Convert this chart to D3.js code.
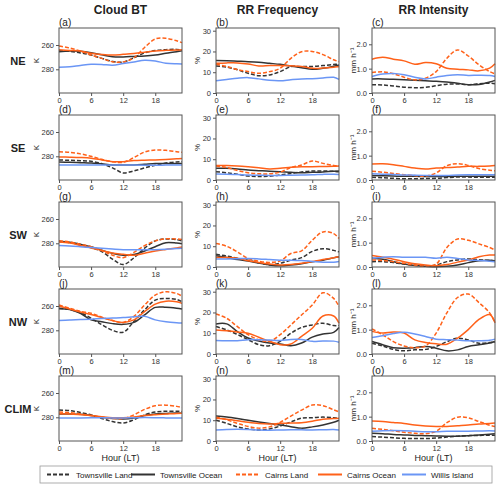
<!DOCTYPE html>
<html>
<head>
<meta charset="utf-8">
<script src="https://cdn.jsdelivr.net/npm/d3@7"></script>
<style>
  body { margin: 0; background: #fff; }
  text { font-family: "Liberation Sans", Arial, sans-serif; }
</style>
</head>
<body>
<script>
// data
var hours = [0, 2, 4, 6, 8, 10, 12, 14, 16, 18, 20, 22, 23];
var seriesNames = ["Townsville Land", "Townsville Ocean", "Cairns Land", "Cairns Ocean", "Willis Island"];
var regions = ["NE", "SE", "SW", "NW", "CLIM"];
var columnTitles = ["Cloud BT", "RR Frequency", "RR Intensity"];
var columnUnits = ["K", "%", "mm h\u207B\u00B9"];
var panelLetters = ["a", "b", "c", "d", "e", "f", "g", "h", "i", "j", "k", "l", "m", "n", "o"];
var xTicks = [0, 6, 12, 18];
var btTicks = [260, 280];
var freqTicks = [0, 10, 20, 30];
var intTicks = [0, 1, 2];

// order in each panel: Townsville Land, Townsville Ocean, Cairns Land, Cairns Ocean, Willis Island
var btNE = [
    [264.7, 265.2, 266.5, 268.2, 271, 273.5, 274, 270.5, 266.5, 264.6, 263.8, 263.6, 264.1],
    [265.5, 265, 265.2, 266.3, 268, 269.6, 269.8, 269.4, 269, 268.2, 266.8, 265.5, 264.7],
    [260.8, 262.5, 265, 268.2, 271, 273.8, 274, 270.5, 262, 255, 254.5, 256.5, 258],
    [264, 264.5, 265, 266.8, 267.8, 268.3, 267.7, 267, 266, 264.9, 264.4, 264.1, 264],
    [278.4, 277.8, 276.8, 275.9, 276, 276.7, 275.3, 274, 272.6, 273.2, 275, 275.5, 275.6]
];
var btSE = [
    [283, 283.3, 283.6, 284.1, 286, 289.5, 293.7, 292, 289.6, 287.4, 285.5, 284.6, 284.4],
    [284.7, 284.9, 285.2, 285.5, 286.3, 287.1, 287.1, 287.1, 286.6, 286, 286, 285.9, 285.9],
    [276.2, 276.8, 278, 280, 282.5, 284.4, 284.9, 281, 276.5, 274.8, 275.1, 276.2, 276.7],
    [280.5, 280.7, 281, 281.6, 283, 284.4, 284.4, 283.5, 283.2, 283, 282.6, 282.1, 281.9],
    [287.1, 287.1, 287.1, 287.1, 287.1, 287.2, 287.1, 287.2, 287.3, 287.4, 287.2, 287.1, 287.1]
];
var btSW = [
    [278.6, 279.4, 281.2, 283.5, 286.8, 293, 297.5, 292, 284, 278, 276.4, 277, 278],
    [278.4, 279.1, 280.8, 282.8, 285.7, 288.3, 289.9, 289.3, 286.3, 282.8, 279.5, 279.8, 280.3],
    [277.9, 278.9, 280.8, 282.8, 286, 289.8, 291.8, 287.5, 282, 278, 276.3, 276.4, 276.8],
    [279, 279.8, 281.7, 283.8, 286, 288, 289, 289.9, 288.2, 286.3, 285, 283.8, 283],
    [281.9, 282.2, 282.8, 283.5, 284.1, 284.7, 285.2, 285.2, 285.2, 285.2, 284.9, 284.3, 284]
];
var btNW = [
    [261.9, 262.8, 265.5, 270, 275.4, 280, 281.6, 272.7, 263.2, 255.1, 253.8, 254.6, 256.5],
    [262.2, 262.8, 266, 271.4, 273, 274.5, 275.1, 273.5, 267.3, 261.1, 261.1, 261.9, 262.5],
    [259.2, 261.8, 264.4, 266, 269.2, 272, 273.5, 268.6, 259.2, 251, 248.3, 249.7, 251.9],
    [260, 262.5, 265, 267, 269.5, 272, 273.5, 271.4, 264.6, 258.4, 256, 256.5, 257.8],
    [271.9, 271.5, 271.2, 270.8, 270.3, 269.9, 269.5, 268.8, 268.5, 271.4, 273, 273.8, 274]
];
var btCLIM = [
    [274, 274.5, 276, 278, 281, 283.5, 284.7, 282, 278, 275.6, 275, 275, 275.2],
    [277.3, 277.2, 277.5, 278.5, 280, 281, 281.4, 280.5, 278.5, 277.3, 276.8, 276.5, 276.6],
    [275.6, 276.2, 277.3, 278.5, 280, 281, 281, 278, 273.5, 270.5, 270, 271, 272],
    [277, 277.2, 277.8, 278.5, 279.5, 280.3, 280.3, 279.7, 278.5, 277.8, 277.3, 276.8, 276.7],
    [280.6, 280.6, 280.5, 280.4, 280.4, 280.5, 280.5, 280.4, 280.2, 280.3, 280.5, 280.6, 280.6]
];

var freqNE = [
    [13, 12.5, 11.2, 9.5, 8.3, 8.7, 10.3, 12.7, 12.7, 12.8, 13.2, 13.7, 14],
    [15.6, 15.5, 15.3, 15.1, 14.8, 14.3, 13.8, 13, 12.2, 11.4, 11.9, 12.9, 13.5],
    [13.8, 12.8, 11.3, 10.3, 9.5, 10.3, 11.9, 16.7, 19.9, 20, 18.5, 16, 15.1],
    [14.3, 14.5, 14.5, 14, 13, 13.2, 13.3, 13.1, 12.8, 11.9, 12, 12.4, 12.7],
    [5.9, 6.5, 7.1, 7.4, 6.8, 6.1, 5.9, 6.4, 6.8, 6.9, 7.2, 7.6, 6.6]
];
var freqSE = [
    [4, 3.5, 2.8, 1.9, 1.7, 1.8, 2.4, 3.1, 3.9, 4.3, 4.3, 4.2, 4],
    [5.6, 5.6, 5.3, 4.8, 4.5, 4.2, 4, 3.7, 3.5, 3.7, 3.9, 4.2, 4.3],
    [6.7, 6, 4.6, 3.5, 3, 3, 3.8, 6, 7.2, 9.1, 8, 7, 6.7],
    [7, 7, 6.8, 6.4, 5.9, 5.3, 5.6, 6.1, 6.4, 6.4, 6.5, 6.6, 6.7],
    [2.9, 2.8, 2.6, 2.4, 2.3, 2.2, 2.2, 2.3, 2.4, 2.5, 2.7, 2.8, 2.7]
];
var freqSW = [
    [6.1, 5.3, 4.2, 3.3, 2, 1.1, 1.8, 3.3, 4.5, 7.5, 8.8, 8, 7.3],
    [5.4, 4.6, 3.6, 2.9, 1.9, 1, 0.6, 1, 1.6, 2.5, 3.3, 4.4, 4.9],
    [11.3, 10, 7.3, 4.1, 2.8, 2.2, 3, 6.5, 7.8, 12.9, 16.9, 16.1, 13.7],
    [4.6, 4.6, 4.2, 3, 2.2, 1.5, 1, 1.2, 1.8, 2.6, 3.6, 4.5, 4.9],
    [3.8, 3.9, 4, 4.1, 3.9, 3.6, 3.3, 3.3, 3.1, 2.7, 2.3, 2.3, 2.7]
];
var freqNW = [
    [13.2, 11.6, 9.4, 6.9, 4.5, 4, 6.1, 10, 12.8, 14, 14.8, 13.7, 13.7],
    [14.5, 14.5, 10.8, 7.7, 6.3, 5.3, 4.8, 4, 5.3, 8.1, 9.6, 10.4, 12.8],
    [19.3, 17.2, 13.2, 9.3, 6.9, 6.1, 9.3, 14, 18.8, 23.6, 29.5, 26.8, 22.8],
    [11.6, 11.2, 10.6, 10, 8.1, 6.1, 4.5, 4.8, 8.5, 12.4, 18.3, 18.3, 14.8],
    [6.5, 6.4, 6.4, 6.9, 6.9, 6.7, 6.5, 7, 7, 6.1, 6.3, 6.2, 5.7]
];
var freqCLIM = [
    [10, 8.5, 6.8, 5.8, 5.3, 5.8, 7.2, 9.2, 11, 11.2, 11.5, 11.2, 11],
    [12, 11.5, 10.8, 10, 9.2, 8.4, 7.7, 6.9, 6.2, 6.8, 7.7, 9, 10],
    [11.5, 10.2, 8.5, 7, 6.2, 6.8, 9, 12, 14.9, 17.3, 17, 15, 14],
    [11, 10.5, 9.8, 9, 8.4, 8.2, 8.5, 8.7, 8.8, 9.5, 10.5, 10.8, 11],
    [5.3, 5.5, 5.6, 5.5, 5.3, 5.2, 5.3, 5.4, 5.4, 5.3, 5.4, 5.5, 5.3]
];

var intNE = [
    [0.34, 0.33, 0.29, 0.24, 0.22, 0.23, 0.3, 0.36, 0.37, 0.34, 0.38, 0.4, 0.38],
    [0.58, 0.58, 0.56, 0.54, 0.52, 0.5, 0.48, 0.45, 0.4, 0.34, 0.35, 0.45, 0.52],
    [0.84, 0.87, 0.79, 0.65, 0.54, 0.61, 0.88, 1.43, 1.77, 1.52, 1.16, 0.88, 0.79],
    [1.39, 1.47, 1.39, 1.32, 1.18, 1.25, 1.2, 1.02, 0.98, 0.95, 0.91, 1.02, 1.2],
    [0.68, 0.78, 0.8, 0.75, 0.65, 0.58, 0.65, 0.72, 0.75, 0.72, 0.73, 0.72, 0.68]
];
var intSE = [
    [0.11, 0.09, 0.07, 0.05, 0.05, 0.06, 0.07, 0.1, 0.12, 0.12, 0.11, 0.11, 0.11],
    [0.18, 0.17, 0.16, 0.15, 0.15, 0.14, 0.14, 0.14, 0.15, 0.15, 0.15, 0.15, 0.15],
    [0.36, 0.32, 0.27, 0.22, 0.18, 0.16, 0.29, 0.59, 0.67, 0.6, 0.47, 0.4, 0.38],
    [0.66, 0.67, 0.63, 0.56, 0.49, 0.45, 0.49, 0.51, 0.53, 0.56, 0.56, 0.58, 0.6],
    [0.26, 0.24, 0.23, 0.21, 0.2, 0.19, 0.18, 0.19, 0.21, 0.22, 0.22, 0.22, 0.22]
];
var intSW = [
    [0.22, 0.22, 0.18, 0.12, 0.07, 0.04, 0.08, 0.22, 0.29, 0.33, 0.3, 0.27, 0.26],
    [0.36, 0.32, 0.22, 0.12, 0.06, 0.03, 0.01, 0.03, 0.08, 0.18, 0.26, 0.28, 0.25],
    [0.29, 0.27, 0.22, 0.15, 0.08, 0.04, 0.12, 0.8, 1.15, 1.1, 0.95, 0.8, 0.7],
    [0.47, 0.4, 0.32, 0.22, 0.13, 0.08, 0.05, 0.1, 0.2, 0.29, 0.42, 0.49, 0.49],
    [0.36, 0.4, 0.42, 0.4, 0.4, 0.4, 0.36, 0.4, 0.35, 0.29, 0.27, 0.24, 0.22]
];
var intNW = [
    [0.44, 0.33, 0.19, 0.13, 0.17, 0.19, 0.31, 0.51, 0.65, 0.58, 0.44, 0.47, 0.49],
    [0.51, 0.38, 0.26, 0.24, 0.26, 0.31, 0.24, 0.13, 0.17, 0.31, 0.38, 0.45, 0.51],
    [1.03, 0.79, 0.51, 0.33, 0.26, 0.33, 0.86, 1.69, 2.32, 2.46, 2.11, 1.69, 1.28],
    [0.93, 0.86, 0.9, 0.86, 0.58, 0.47, 0.42, 0.4, 0.65, 1, 1.42, 1.62, 1.28],
    [0.68, 0.75, 0.84, 0.89, 0.82, 0.72, 0.61, 0.59, 0.57, 0.54, 0.54, 0.56, 0.61]
];
var intCLIM = [
    [0.18, 0.16, 0.13, 0.11, 0.1, 0.1, 0.12, 0.16, 0.2, 0.22, 0.23, 0.24, 0.24],
    [0.32, 0.3, 0.27, 0.25, 0.23, 0.22, 0.21, 0.2, 0.2, 0.22, 0.25, 0.28, 0.3],
    [0.52, 0.48, 0.42, 0.36, 0.32, 0.3, 0.4, 0.75, 0.98, 0.95, 0.8, 0.65, 0.6],
    [0.82, 0.8, 0.76, 0.72, 0.66, 0.62, 0.6, 0.6, 0.63, 0.66, 0.7, 0.72, 0.74],
    [0.4, 0.42, 0.43, 0.42, 0.4, 0.38, 0.38, 0.4, 0.4, 0.4, 0.41, 0.42, 0.41]
];

var panels = [
    [btNE, freqNE, intNE],
    [btSE, freqSE, intSE],
    [btSW, freqSW, intSW],
    [btNW, freqNW, intNW],
    [btCLIM, freqCLIM, intCLIM]
];

// styles
var colors = ["#333333", "#333333", "#ff6119", "#ff6119", "#6b96f5"];
var dashes = ["4,2", null, "4,2", null, null];

var width = 500,
    height = 487,
    colLeft = [59, 216, 372],
    panelWidth = 123,
    panelHeight = 65,
    rowTop = 28,
    rowStep = 87
;

var svg = d3.select("body").append("svg")
    .attr("width", width)
    .attr("height", height)
;

var x = d3.scaleLinear()
    .domain([0, 23])
    .range([0, panelWidth])
;

var yScales = [
    d3.scaleLinear().domain([246, 299.5]).range([0, panelHeight]),
    d3.scaleLinear().domain([0, 31.3]).range([panelHeight, 0]),
    d3.scaleLinear().domain([0, 2.67]).range([panelHeight, 0])
];
var yTicks = [btTicks, freqTicks, intTicks];

// column titles
for (var c = 0; c < 3; c++) {
    svg.append("text")
        .attr("x", colLeft[c] + panelWidth / 2)
        .attr("y", 14)
        .attr("text-anchor", "middle")
        .attr("font-size", 12)
        .attr("font-weight", "bold")
        .attr("fill", "#222")
        .text(columnTitles[c])
    ;
    svg.append("text")
        .attr("x", colLeft[c] + panelWidth / 2)
        .attr("y", 461)
        .attr("text-anchor", "middle")
        .attr("font-size", 9)
        .attr("fill", "#222")
        .text("Hour (LT)")
    ;
}

for (var r = 0; r < 5; r++) {
    var panelTop = rowTop + rowStep * r;

    svg.append("text")
        .attr("x", 18)
        .attr("y", panelTop + panelHeight / 2 + 4)
        .attr("text-anchor", "middle")
        .attr("font-size", 11)
        .attr("font-weight", "bold")
        .attr("fill", "#222")
        .text(regions[r])
    ;

    for (var c = 0; c < 3; c++) {
        var y = yScales[c];
        var g = svg.append("g")
            .attr("transform", `translate(${colLeft[c]},${panelTop})`)
        ;

        var line = d3.line()
            .x(function(d, i) { return x(hours[i]); })
            .y(function(d) { return y(d); })
            .curve(d3.curveCatmullRom)
        ;

        var data = panels[r][c];
        for (var s = 0; s < 5; s++) {
            g.append("path")
                .attr("d", line(data[s]))
                .attr("fill", "none")
                .attr("stroke", colors[s])
                .attr("stroke-width", 1.5)
                .attr("stroke-dasharray", dashes[s])
            ;
        }

        // frame
        g.append("rect")
            .attr("width", panelWidth)
            .attr("height", panelHeight)
            .attr("fill", "none")
            .attr("stroke", "#555")
            .attr("stroke-width", 1)
        ;

        var xAxis = d3.axisBottom(x)
            .tickValues(xTicks)
            .tickSize(3)
            .tickPadding(2)
        ;
        var gx = g.append("g")
            .attr("transform", `translate(0,${panelHeight})`)
            .call(xAxis)
        ;

        var yAxis = d3.axisLeft(y)
            .tickValues(yTicks[c])
            .tickSize(3)
            .tickPadding(2)
        ;
        var gy = g.append("g").call(yAxis);

        [gx, gy].forEach(function(a) {
            a.select(".domain").remove();
            a.selectAll("line").attr("stroke", "#555");
            a.selectAll("text")
                .attr("font-size", 7.5)
                .attr("fill", "#333")
                .style("font-family", "'Liberation Sans', Arial, sans-serif");
        });

        g.append("text")
            .attr("x", 0)
            .attr("y", -2)
            .attr("font-size", 10)
            .attr("fill", "#222")
            .text("(" + panelLetters[r * 3 + c] + ")")
        ;

        g.append("text")
            .attr("transform", `translate(${c == 0 ? -20 : -16},${panelHeight / 2}) rotate(-90)`)
            .attr("text-anchor", "middle")
            .attr("font-size", 8)
            .attr("fill", "#222")
            .text(columnUnits[c])
        ;
    }
}

// legend
var legendX = [47, 131, 236, 318, 402];
var legend = svg.append("g");
legend.append("rect")
    .attr("x", 40)
    .attr("y", 466)
    .attr("width", 452)
    .attr("height", 17)
    .attr("fill", "#fff")
    .attr("stroke", "#999")
    .attr("stroke-width", 0.8)
;
for (var s = 0; s < 5; s++) {
    legend.append("line")
        .attr("x1", legendX[s])
        .attr("x2", legendX[s] + 24)
        .attr("y1", 474.5)
        .attr("y2", 474.5)
        .attr("stroke", colors[s])
        .attr("stroke-width", 2)
        .attr("stroke-dasharray", dashes[s])
    ;
    legend.append("text")
        .attr("x", legendX[s] + 29)
        .attr("y", 477.5)
        .attr("font-size", 8)
        .attr("fill", "#222")
        .text(seriesNames[s])
    ;
}
</script>
</body>
</html>
